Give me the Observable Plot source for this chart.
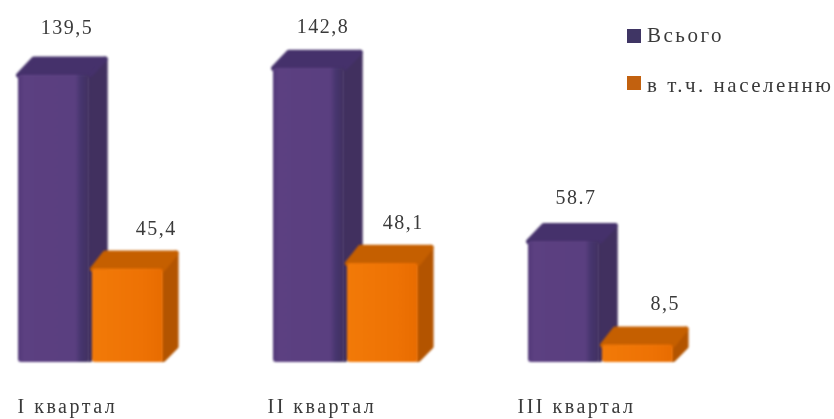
<!DOCTYPE html>
<html><head><meta charset="utf-8">
<script src="https://cdn.jsdelivr.net/npm/d3@7"></script>
<script src="https://cdn.jsdelivr.net/npm/@observablehq/plot@0.6"></script>
<style>
html,body{margin:0;padding:0;background:#fff}
#wrap{position:relative;width:834px;height:419px;overflow:hidden}
.blurred{filter:blur(1px)}
.soft{filter:blur(.6px)}
.legend{position:absolute;left:627px;font:21px "Liberation Serif",serif;letter-spacing:2.5px;color:#3a3a3a;display:flex;align-items:center;white-space:nowrap;filter:blur(.6px)}
.legend i{display:inline-block;width:14px;height:14px;margin-right:6px;filter:blur(.6px)}
.legend span{position:relative}
</style></head><body><div id="wrap"></div>
<script>
const categories = ["I квартал","II квартал","III квартал"];
const total = [139.5,142.8,58.7];
const population = [45.4,48.1,8.5];
const valueLabels = [["139,5","142,8","58.7"],["45,4","48,1","8,5"]];
const seriesNames = ["Всього","в т.ч. населенню"];

const PITCH = 255;
const LABEL_PITCH = 250/255;
const PX_PER_UNIT = 2.06;
const barW = [0.28,0.278];
const barX = [0,0.29];
const depthX = [0.06,0.05], depthY = 7.8;
// hand placement of the value labels in the original, in px
const labelDx = [[0,1,-1],[0,-8,-1]];
const labelDy = [[-1,4,2],[6,5,5]];
const palette = [
  {front:"url(#gp)",top:"#45316b",side:"#41305f"},
  {front:"url(#go)",top:"#c55f00",side:"#b35400"}
];
const labelOff = [0.19,0.25];
const rows=[];
categories.forEach((c,i)=>{
  [total[i],population[i]].forEach((v,s)=>{
    rows.push({i,s,v,x1:i+barX[s],x2:i+barX[s]+barW[s],label:valueLabels[s][i],
      lx:i+barX[s]+labelOff[s]+labelDx[s][i]/PITCH,
      ly:v+depthY-labelDy[s][i]/PX_PER_UNIT});
  });
});
const poly = (r,face)=>{
  const dx=depthX[r.s],dy=depthY,{x1,x2,v}=r;
  const pts = face==="top"
    ? [[x1,v],[x2,v],[x2+dx,v+dy],[x1+dx,v+dy]]
    : [[x2,1.4],[x2+dx,dy],[x2+dx,v+dy],[x2,v]];
  return pts.map(([x,y])=>({x,y,id:`${r.i}-${r.s}-${face}`,s:r.s,face}));
};
const faces = s => rows.filter(r=>r.s===s).flatMap(r=>[...poly(r,"side"),...poly(r,"top")]);
const faceMark = s => Plot.line(faces(s),{
  x:"x",y:"y",z:"id",curve:"linear-closed",
  fill:d=>d.face==="top"?palette[s].top:palette[s].side,
  stroke:d=>d.face==="top"?palette[s].top:palette[s].side,
  strokeWidth:5,strokeLinejoin:"round",className:"blurred"
});
const defs = () => {
  const ns="http://www.w3.org/2000/svg";
  const d=document.createElementNS(ns,"defs");
  d.innerHTML=`<linearGradient id="gp" x1="0" x2="1" y1="0" y2="0">
    <stop offset="0" stop-color="#513878"/><stop offset=".08" stop-color="#5c4081"/>
    <stop offset=".8" stop-color="#5a3f80"/><stop offset=".88" stop-color="#46356e"/><stop offset="1" stop-color="#41305f"/></linearGradient>
    <linearGradient id="go" x1="0" x2="1" y1="0" y2="0">
    <stop offset="0" stop-color="#f27a08"/><stop offset=".7" stop-color="#ee7204"/><stop offset="1" stop-color="#e86c00"/></linearGradient>`;
  return d;
};
const frontMark = s => Plot.rect(rows.filter(r=>r.s===s),{
  x1:"x1",x2:"x2",y1:0,y2:"v",fill:palette[s].front,rx:3,className:"blurred"
});
const textFont = {fontFamily:"'Liberation Serif',serif",fill:"#3a3a3a",className:"soft"};
const chart = Plot.plot({
  width:834,height:419,margin:0,
  x:{axis:null,domain:[-18/PITCH,(834-18)/PITCH],range:[0,834]},
  y:{axis:null,domain:[0,362/PX_PER_UNIT],range:[362,0]},
  style:{background:"transparent"},
  marks:[
    defs,
    faceMark(0),frontMark(0),
    faceMark(1),frontMark(1),
    Plot.text(rows,{x:"lx",y:"ly",text:"label",dy:-30,fontSize:20,...textFont}),
    Plot.text(categories,{x:(d,i)=>i*LABEL_PITCH,y:0,text:d=>d,textAnchor:"start",dy:44,dx:-1,fontSize:20,...textFont})
  ]
});
const wrap=document.getElementById("wrap");
wrap.append(chart);
chart.style.display="block";
const tg=[...chart.querySelectorAll("g[aria-label='text']")];
tg[0].querySelectorAll("text").forEach(t=>t.style.letterSpacing="1.5px");
tg[1].querySelectorAll("text").forEach(t=>t.style.letterSpacing="2.5px");
[["#3f3564",23,0],["#c2610f",70,3]].forEach(([c,top,lift],k)=>{
  const el=document.createElement("div");el.className="legend";el.style.top=top+"px";
  const sw=document.createElement("i");sw.style.background=c;
  const tx=document.createElement("span");tx.textContent=seriesNames[k];tx.style.top=lift+"px";
  el.append(sw,tx);wrap.append(el);
});
</script></body></html>
